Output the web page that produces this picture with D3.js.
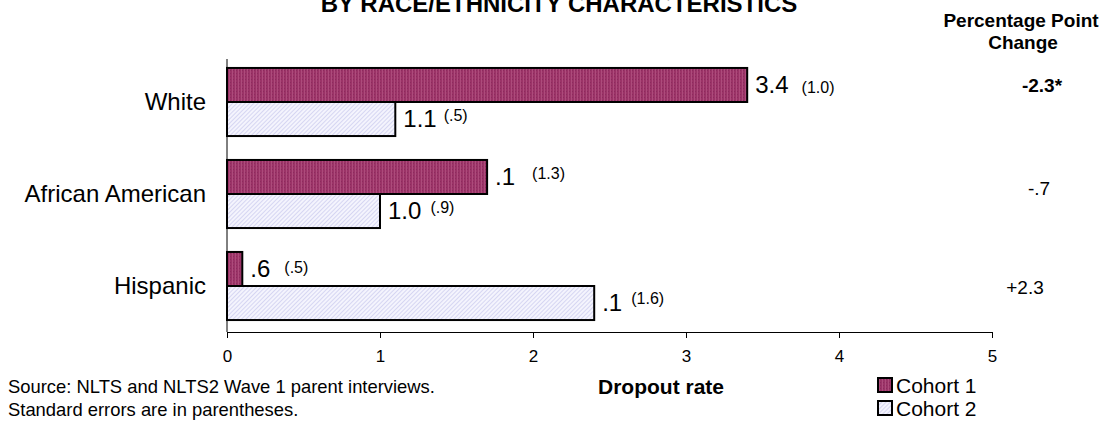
<!DOCTYPE html>
<html>
<head>
<meta charset="utf-8">
<script src="https://cdn.jsdelivr.net/npm/d3@7/dist/d3.min.js"></script>
<style>
  html, body { margin: 0; padding: 0; background: #fff; }
  svg { display: block; font-family: Arial, "Liberation Sans", sans-serif; }
</style>
</head>
<body>
<svg id="chart" width="1105" height="423"></svg>
<script>
// Dropout rate by race/ethnicity, two cohorts
const categories = ["White", "African American", "Hispanic"];
const cohorts = ["Cohort 1", "Cohort 2"];
const cohort1 = [3.4, 1.7, 0.1];
const cohort2 = [1.1, 1.0, 2.4];
// printed value labels and standard errors, per category: [cohort 1, cohort 2]
const valueLabels = [["3.4", "1.1"], [".1", "1.0"], [".6", ".1"]];
const stdErrors = [["(1.0)", "(.5)"], ["(1.3)", "(.9)"], ["(.5)", "(1.6)"]];
const pointChange = ["-2.3*", "-.7", "+2.3"];
const xTicks = [0, 1, 2, 3, 4, 5];

const svg = d3.select("#chart");

const x = d3.scaleLinear().domain([0, 5]).range([227, 992]);
const y = d3.scaleBand().domain(categories).range([56, 332])
  .paddingInner(0.26).paddingOuter(0.13);
const sub = d3.scaleBand().domain(cohorts).range([0, y.bandwidth()]);

// fill patterns
const defs = svg.append("defs");
const p1 = defs.append("pattern").attr("id", "pat1")
  .attr("patternUnits", "userSpaceOnUse").attr("width", 3).attr("height", 3);
p1.append("rect").attr("width", 3).attr("height", 3).attr("fill", "#9b3367");
p1.append("rect").attr("x", 1).attr("width", 1).attr("height", 3).attr("fill", "#ad4b7b");
p1.append("rect").attr("x", 2).attr("y", 1).attr("width", 1).attr("height", 1).attr("fill", "#8c2b5d");

const p2 = defs.append("pattern").attr("id", "pat2")
  .attr("patternUnits", "userSpaceOnUse").attr("width", 3).attr("height", 3)
  .attr("patternTransform", "rotate(45)");
p2.append("rect").attr("width", 3).attr("height", 3).attr("fill", "#f4f4fd");
p2.append("rect").attr("width", 1).attr("height", 3).attr("fill", "#d6d6f2");

const fills = ["url(#pat1)", "url(#pat2)"];

// title (partly above the top edge)
svg.append("text")
  .attr("x", 559).attr("y", 12)
  .attr("text-anchor", "middle")
  .attr("font-weight", "bold").attr("font-size", 24)
  .text("BY RACE/ETHNICITY CHARACTERISTICS");

// right-hand column header
const hdr = svg.append("text")
  .attr("text-anchor", "middle")
  .attr("font-weight", "bold").attr("font-size", 19);
hdr.append("tspan").attr("x", 1021).attr("y", 27).text("Percentage Point");
hdr.append("tspan").attr("x", 1023).attr("y", 49).text("Change");

// x axis
const xAxis = svg.append("g")
  .attr("transform", `translate(0,${y.range()[1]})`)
  .call(d3.axisBottom(x).tickValues(xTicks).tickFormat(d3.format("d"))
    .tickSize(6).tickPadding(12));
xAxis.select(".domain").attr("stroke", "#000");
xAxis.selectAll(".tick line").attr("stroke", "#000");
xAxis.selectAll(".tick text")
  .attr("font-size", 17).attr("font-family", "Arial, 'Liberation Sans', sans-serif")
  .attr("fill", "#000");

// y axis with category names
const yAxis = svg.append("g")
  .attr("transform", `translate(${x(0)},0)`)
  .call(d3.axisLeft(y).tickSize(0).tickPadding(21));
yAxis.select(".domain").attr("stroke", "#000").attr("d", `M0,${y.range()[0] + 3}V${y.range()[1]}`);
yAxis.selectAll(".tick text")
  .attr("font-size", 24).attr("font-family", "Arial, 'Liberation Sans', sans-serif")
  .attr("fill", "#000");

// bars
const bars = categories.flatMap((c, i) => [cohort1[i], cohort2[i]].map((v, k) => ({
  cat: c, i, k, value: v,
  label: valueLabels[i][k], se: stdErrors[i][k]
})));

svg.append("g").selectAll("rect")
  .data(bars).join("rect")
  .attr("x", x(0))
  .attr("y", d => y(d.cat) + sub(cohorts[d.k]))
  .attr("width", d => x(d.value) - x(0))
  .attr("height", sub.bandwidth())
  .attr("fill", d => fills[d.k])
  .attr("stroke", "#000").attr("stroke-width", 2);

// value labels and standard errors next to the bar ends
const seGap = [[13, 0], [7, 6], [17, 6], [9, 6], [14, 4], [9, 7]];
const lab = svg.append("g");
bars.forEach((d, j) => {
  const cy = y(d.cat) + sub(cohorts[d.k]) + sub.bandwidth() / 2;
  const t = lab.append("text")
    .attr("x", x(d.value) + 8).attr("y", cy + 8)
    .attr("font-size", 24).text(d.label);
  const w = t.node().getComputedTextLength();
  lab.append("text")
    .attr("x", x(d.value) + 8 + w + seGap[j][0])
    .attr("y", cy + 8 - seGap[j][1])
    .attr("font-size", 16).text(d.se);
});

// percentage point change column
const changePos = [[1042, -10], [1039, 1], [1025, 8]];
svg.append("g").selectAll("text")
  .data(categories).join("text")
  .attr("x", (d, i) => changePos[i][0])
  .attr("y", (d, i) => y(d) + y.bandwidth() / 2 + changePos[i][1])
  .attr("text-anchor", "middle")
  .attr("font-size", 19)
  .attr("font-weight", (d, i) => pointChange[i].includes("*") ? "bold" : "normal")
  .text((d, i) => pointChange[i]);

// axis title
svg.append("text")
  .attr("x", 661).attr("y", 394)
  .attr("text-anchor", "middle")
  .attr("font-weight", "bold").attr("font-size", 21)
  .text("Dropout rate");

// footnotes
svg.append("text").attr("x", 8).attr("y", 393).attr("font-size", 18.4)
  .text("Source: NLTS and NLTS2 Wave 1 parent interviews.");
svg.append("text").attr("x", 8).attr("y", 416).attr("font-size", 18.4)
  .text("Standard errors are in parentheses.");

// legend
const leg = svg.append("g").selectAll("g")
  .data(cohorts).join("g")
  .attr("transform", (d, i) => `translate(878,${378 + i * 23})`);
leg.append("rect")
  .attr("width", 14).attr("height", 14)
  .attr("fill", (d, i) => fills[i])
  .attr("stroke", "#000").attr("stroke-width", 2);
leg.append("text")
  .attr("x", 18).attr("y", 15)
  .attr("font-size", 21)
  .text(d => d);
</script>
</body>
</html>
